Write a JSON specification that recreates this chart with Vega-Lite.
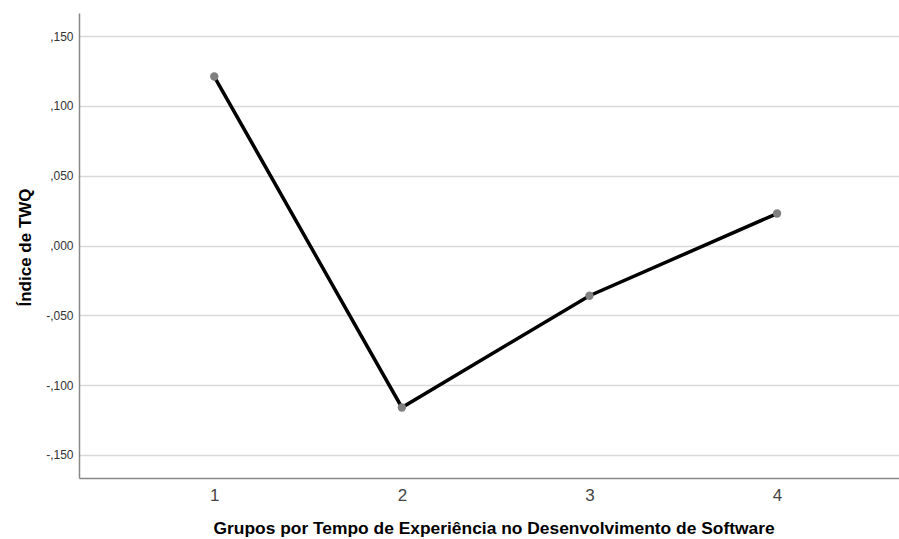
{
  "$schema": "https://vega.github.io/schema/vega-lite/v6.json",
  "autosize": "none",
  "width": 820,
  "height": 465,
  "padding": {"left": 79, "top": 13, "right": 0, "bottom": 61},
  "background": "white",
  "config": {
    "view": {"stroke": null},
    "font": "Liberation Sans"
  },
  "data": {
    "values": [
      {"grupo": 1, "twq": 0.121},
      {"grupo": 2, "twq": -0.116},
      {"grupo": 3, "twq": -0.036},
      {"grupo": 4, "twq": 0.0229}
    ]
  },
  "encoding": {
    "x": {
      "field": "grupo",
      "type": "quantitative",
      "scale": {"domain": [0.279, 4.65], "nice": false, "zero": false},
      "axis": {
        "title": "Grupos por Tempo de Experiência no Desenvolvimento de Software",
        "titleFont": "Liberation Sans",
        "titleFontSize": 17.4,
        "titleFontWeight": "bold",
        "titleColor": "#000000",
        "titleAnchor": "start",
        "titleX": 134,
        "titleY": 55,
        "titleBaseline": "alphabetic",
        "values": [1, 2, 3, 4],
        "format": "d",
        "labelFontSize": 17,
        "labelColor": "#444444",
        "labelPadding": 9,
        "ticks": false,
        "grid": false,
        "domainColor": "#888888",
        "domainWidth": 1.5
      }
    },
    "y": {
      "field": "twq",
      "type": "quantitative",
      "scale": {"domain": [-0.1665, 0.1665], "nice": false, "zero": false},
      "axis": {
        "title": "Índice de TWQ",
        "titleFont": "Liberation Sans",
        "titleFontSize": 17,
        "titleFontWeight": "bold",
        "titleColor": "#000000",
        "titleX": -54,
        "titleY": 234,
        "titleAngle": -90,
        "titleAlign": "center",
        "titleBaseline": "middle",
        "values": [-0.15, -0.1, -0.05, 0, 0.05, 0.1, 0.15],
        "labelExpr": "replace(replace(format(datum.value, '.3f'), '0.', ','), '\u2212', '-')",
        "labelFontSize": 12,
        "labelColor": "#333333",
        "labelPadding": 6,
        "ticks": false,
        "grid": true,
        "gridColor": "#d9d9d9",
        "gridWidth": 1.5,
        "domainColor": "#888888",
        "domainWidth": 1.5
      }
    }
  },
  "layer": [
    {
      "mark": {"type": "line", "color": "#000000", "strokeWidth": 3.5}
    },
    {
      "mark": {"type": "point", "filled": true, "color": "#808080", "opacity": 1, "size": 70}
    }
  ]
}
